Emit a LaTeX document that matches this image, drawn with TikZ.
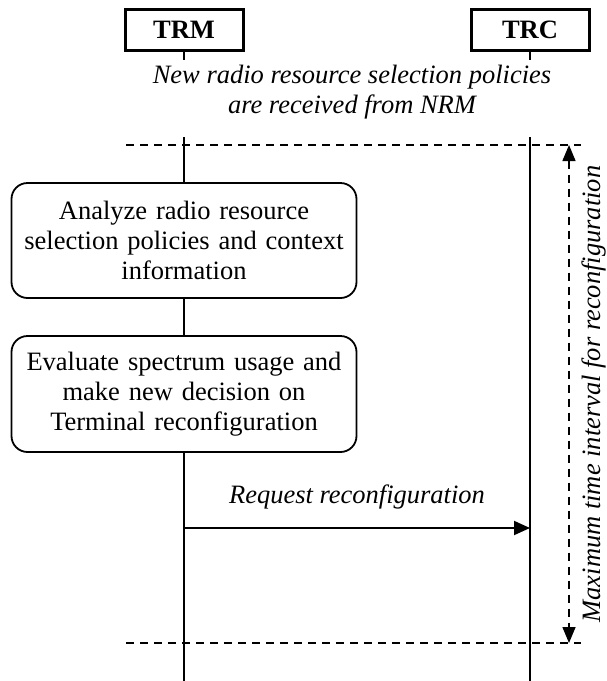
\documentclass[tikz,border=0pt]{standalone}
\usepackage{fontspec}
\setmainfont{Liberation Serif}
\usetikzlibrary{arrows.meta}

\begin{document}
\begin{tikzpicture}[x=1pt, y=-1pt,
	entity/.style={draw, line width=3pt, minimum width=118pt, minimum height=41pt, inner sep=0pt, font=\fontsize{26.5}{30}\selectfont\bfseries},
	action/.style={draw, line width=1.8pt, rounded corners=16pt, fill=white, minimum width=345pt, text width=340pt, align=center, inner sep=0pt, font=\fontsize{26.5}{30}\selectfont},
	note/.style={align=center, font=\fontsize{26.5}{30}\selectfont\itshape},
	life/.style={line width=1.9pt},
	bound/.style={line width=1.5pt, dash pattern=on 8pt off 6pt}]
				\useasboundingbox (0,0) rectangle (606,681);
				\node (trm) [entity] at (184,29.5) {TRM};
				\node (trc) [entity] at (530,29.5) {TRC};
				\node (policies) [note] at (352,92) {New radio resource selection policies\\are received from NRM};
				\node (analyze) [action, minimum height=115pt] at (184,240.5) {Analyze radio resource\\selection policies and context\\information};
				\node (evaluate) [action, minimum height=116pt] at (184,394) {Evaluate spectrum usage and\\make new decision on\\Terminal reconfiguration};
				\node (request) [note] at (357,497) {Request reconfiguration};
				\node (maxtime) [note, rotate=90] at (594,394) {Maximum time interval for reconfiguration};
				
				\coordinate (trmstub) at (184,60);
				\coordinate (trcstub) at (530,60);
				\coordinate (trmtop) at (184,137);
				\coordinate (trctop) at (530,137);
				\coordinate (trmend) at (184,681);
				\coordinate (trcend) at (530,681);
				\coordinate (reqfrom) at (184,528);
				\coordinate (reqto) at (530,528);
				\coordinate (startleft) at (126,145);
				\coordinate (startright) at (581,145);
				\coordinate (endleft) at (126,643);
				\coordinate (endright) at (581,643);
				\coordinate (maxtop) at (569,145);
				\coordinate (maxbottom) at (569,643);
				
				\draw [life] (trm) -- (trmstub);
				\draw [life] (trc) -- (trcstub);
				\draw [life] (trmtop) -- (analyze);
				\draw [life] (analyze) -- (evaluate);
				\draw [life] (evaluate) -- (trmend);
				\draw [life] (trctop) -- (trcend);
				\draw [bound] (startleft) -- (startright);
				\draw [bound] (endleft) -- (endright);
				\draw [life, -{Triangle[length=16pt, width=14pt]}] (reqfrom) -- (reqto);
				\draw [bound, {Triangle[length=16pt, width=13pt]}-{Triangle[length=16pt, width=13pt]}] (maxtop) -- (maxbottom);
			\end{tikzpicture}
\end{document}
